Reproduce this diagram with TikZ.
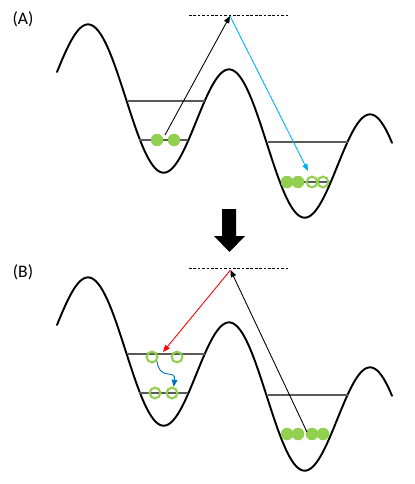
\documentclass[tikz,border=0pt]{standalone}
\usepackage{fontspec}
\setmainfont{Carlito}
\usetikzlibrary{arrows.meta}
\definecolor{LG}{HTML}{92D050}
\definecolor{LB}{HTML}{00B0F0}
\definecolor{DB}{HTML}{0070C0}
\definecolor{LV}{HTML}{5A5A5A}

\tikzset{
  pot/.style={line width=1.1pt, line cap=round},
  level/.style={LV, line width=0.75pt},
  virt/.style={dash pattern=on 1.5pt off 1pt, line width=0.55pt},
  fullball/.style={circle, fill=LG, inner sep=0pt, minimum size=0.25cm},
  openball/.style={circle, draw=LG, line width=1.2pt, inner sep=0pt, minimum size=0.215cm},
  trans/.style={line width=0.5pt, -{Triangle[length=4pt,width=3.2pt]}},
  panel/.style={font=\fontsize{10}{12}\selectfont}
}

\begin{document}
\begin{tikzpicture}[x=0.02cm, y=-0.02cm]
  \useasboundingbox (0,0) rectangle (415,484);

  %% ── double wells and levels, same for both panels ──
  \foreach \off in {0,253}{
    \draw[pot] plot[domain=57:392, samples=200, smooth]
      (\x, {58.4+0.319*\x-62.5*cos(2.553*(\x-90.6))+\off});
    %% left well
    \draw[level] (128,101+\off) -- (205,101+\off);
    \draw[level] (139,140+\off) -- (188,140+\off);
    %% right well
    \draw[level] (268,142+\off) -- (348,142+\off);
    %% virtual level
    \draw[virt] (189,15+\off) -- (290,15+\off);
  }

  %% ── panel (A) ──────────────────────────────
  \node[panel] (labA) at (23,19) {(A)};
  \draw[level] (283,182) -- (330,182);

  \node[fullball] (fA1) at (157,140) {};
  \node[fullball] (fA2) at (174,140) {};
  \node[fullball] (fA3) at (287,182) {};
  \node[fullball] (fA4) at (298,182) {};
  \node[openball] (oA1) at (312,182) {};
  \node[openball] (oA2) at (323,182) {};

  \coordinate (startA) at (165,135);
  \coordinate (exA) at (230,16);
  \coordinate (endA) at (308,171);
  \draw[trans] (startA) -- (exA);
  \draw[trans, LB] (exA) -- (endA);

  %% big arrow between panels
  \fill (222,209) -- (236,209) -- (236,236) -- (245,236)
    -- (229.5,252) -- (214,236) -- (222,236) -- cycle;

  %% ── panel (B) ──────────────────────────────
  \node[panel] (labB) at (23,272) {(B)};

  \node[openball] (oB1) at (152,357) {};
  \node[openball] (oB2) at (177,357) {};
  \node[openball] (oB3) at (155,393) {};
  \node[openball] (oB4) at (172,393) {};
  \node[fullball] (fB1) at (287,434) {};
  \node[fullball] (fB2) at (298,434) {};
  \node[fullball] (fB3) at (312,434) {};
  \node[fullball] (fB4) at (323,434) {};

  \coordinate (startB) at (307,432);
  \coordinate (exB) at (230.5,270);
  \coordinate (endB) at (163,352);
  \draw[trans] (startB) -- (exB);
  \draw[trans, red] (exB) -- (endB);
  \draw[trans, DB] (oB1.-40) .. controls (160,382) and (176,368) .. (oB4.75);

\end{tikzpicture}
\end{document}
